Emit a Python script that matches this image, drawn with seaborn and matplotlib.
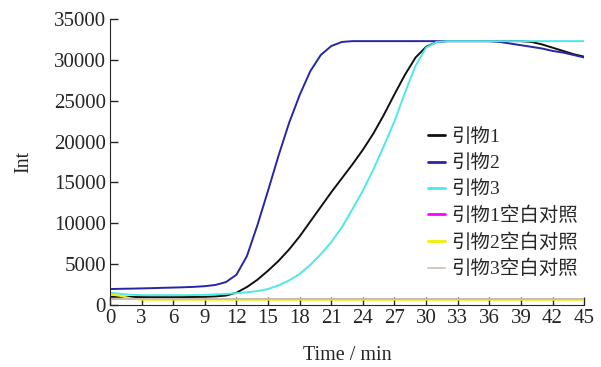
import numpy as np
import pandas as pd
import matplotlib
matplotlib.use("Agg")
import matplotlib.pyplot as plt
import seaborn as sns

# 时间点 (min)
tempo = list(range(46))

# 引物1
primer1 = [1000, 1000, 980, 970, 960, 960, 960, 970, 980, 1000, 1050, 1150, 1500, 2200, 3100, 4200,
           5400, 6800, 8400, 10200, 12000, 13800, 15500, 17200, 19000, 21000, 23300, 25800, 28200,
           30300, 31600, 32200, 32300, 32300, 32300, 32300, 32300, 32300, 32300, 32300, 32200,
           31900, 31500, 31100, 30700, 30400]
# 引物2
primer2 = [1950, 1980, 2000, 2030, 2060, 2100, 2130, 2170, 2220, 2300, 2450, 2800, 3700, 6000,
           9800, 14000, 18300, 22300, 25700, 28600, 30600, 31700, 32200, 32300, 32300, 32300,
           32300, 32300, 32300, 32300, 32300, 32300, 32300, 32300, 32300, 32300, 32300, 32200,
           32000, 31800, 31600, 31400, 31100, 30900, 30600, 30300]
# 引物3
primer3 = [1500, 1350, 1250, 1200, 1200, 1200, 1200, 1200, 1220, 1250, 1300, 1350, 1450, 1550,
           1700, 1950, 2400, 3000, 3800, 4900, 6200, 7700, 9500, 11700, 14000, 16600, 19500,
           22500, 26000, 29300, 31500, 32200, 32300, 32300, 32300, 32300, 32300, 32300, 32300,
           32300, 32300, 32300, 32300, 32300, 32300, 32300]
# 空白对照
blank1 = [700] * 46
blank2 = [1300, 1100, 800] + [650] * 43
blank3 = [720] * 46

nomes = ["引物1", "引物2", "引物3", "引物1空白对照", "引物2空白对照", "引物3空白对照"]
series = [primer1, primer2, primer3, blank1, blank2, blank3]
cores = ["#111111", "#2626a6", "#4de8e8", "#ff00ff", "#f0f000", "#c8c0b0"]

df = pd.concat([pd.DataFrame({"Time": tempo, "Int": s, "serie": n}) for n, s in zip(nomes, series)])

sns.set_style("ticks")
plt.rcParams["font.family"] = ["Liberation Serif", "Noto Sans CJK SC"]

fig = plt.figure(figsize=(6.01, 3.67), dpi=100)
ax = fig.add_axes([0.183, 0.169, 0.789, 0.779])

sns.lineplot(data=df, x="Time", y="Int", hue="serie", hue_order=nomes,
             palette=dict(zip(nomes, cores)), linewidth=1.4, ax=ax, legend=False)

ax.set_xlim(0, 45)
ax.set_ylim(0, 35000)
ax.set_xticks(range(0, 46, 3))
ax.set_yticks(range(0, 35001, 5000))
ax.tick_params(direction="in", length=6, width=1, labelsize=15, pad=3)
sns.despine(ax=ax)
ax.set_xlabel("Time / min", fontsize=14.5, labelpad=13)
ax.set_ylabel("Int", fontsize=14.5, labelpad=15)

handles = [plt.Line2D([], [], color=c, lw=2 if i < 5 else 1.2) for i, c in enumerate(cores)]
ax.legend(handles, nomes, loc="upper left", bbox_to_anchor=(0.655, 0.645), frameon=False,
          handlelength=0.85, handletextpad=0.35, labelspacing=0.42, borderaxespad=0,
          prop={"family": ["Liberation Serif", "Noto Sans CJK SC"], "size": 14})

plt.savefig("out.png", dpi=100)
